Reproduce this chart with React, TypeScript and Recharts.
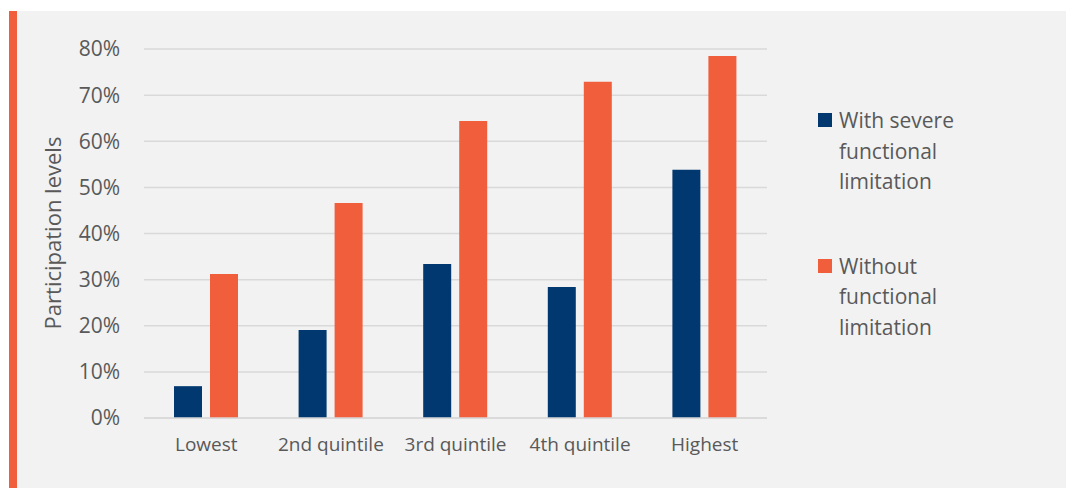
import React from 'react';
import { BarChart, Bar, XAxis, YAxis, CartesianGrid, Label } from 'recharts';

const quintiles = ['Lowest', '2nd quintile', '3rd quintile', '4th quintile', 'Highest'];
const withSevere = [6.9, 19.1, 33.4, 28.4, 53.8];
const withoutLimitation = [31.2, 46.6, 64.4, 72.9, 78.5];
const yTicks = [0, 10, 20, 30, 40, 50, 60, 70, 80];

const BLUE = '#00386f';
const ORANGE = '#f15e3c';
const TEXT = '#595959';
const GRID = '#d9d9d9';
const FONT = '"Open Sans", sans-serif';

const data = quintiles.map((name, i) => ({
  name,
  severe: withSevere[i],
  without: withoutLimitation[i],
}));

const legendItems = [
  { color: BLUE, lines: ['With severe', 'functional', 'limitation'] },
  { color: ORANGE, lines: ['Without', 'functional', 'limitation'] },
];

const LegendBox = () => (
  <div style={{ fontFamily: FONT, fontSize: 21, color: TEXT, lineHeight: '30.5px' }}>
    {legendItems.map((item, i) => (
      <div key={i} style={{ display: 'flex', marginBottom: i === 0 ? 54 : 0 }}>
        <div style={{ width: 14, height: 14, background: item.color, marginTop: 8, marginRight: 7 }} />
        <div>
          {item.lines.map((l, j) => (
            <div key={j}>{l}</div>
          ))}
        </div>
      </div>
    ))}
  </div>
);

export default function App() {
  return (
    <div style={{ position: 'relative', width: 1074, height: 496, margin: -8, background: '#fff', overflow: 'hidden' }}>
      <div
        style={{
          position: 'absolute',
          left: 9,
          top: 11,
          width: 1065,
          height: 485,
          background: '#f2f2f2',
          borderLeft: `8px solid ${ORANGE}`,
          boxSizing: 'border-box',
        }}
      />
      <div style={{ position: 'absolute', left: 0, top: 0 }}>
        <BarChart
          width={1074}
          height={496}
          data={data}
          margin={{ top: 49, right: 307, bottom: 38, left: 0 }}
          barSize={28}
          barGap={8}
        >
          <CartesianGrid vertical={false} stroke={GRID} strokeWidth={1.5} />
          <XAxis
            dataKey="name"
            height={40}
            tickLine={false}
            axisLine={{ stroke: GRID, strokeWidth: 1.5 }}
            tickMargin={14}
            tick={{ fill: TEXT, fontSize: 19, fontFamily: FONT }}
            interval={0}
          />
          <YAxis
            width={144}
            domain={[0, 80]}
            ticks={yTicks}
            tickFormatter={(v) => `${v}%`}
            axisLine={false}
            tickLine={false}
            tickSize={0}
            tickMargin={24}
            tick={{ fill: TEXT, fontSize: 21, fontFamily: FONT }}
          >
            <Label
              content={() => (
                <text
                  x={52}
                  y={233}
                  transform="rotate(-90 52 233)"
                  textAnchor="middle"
                  dominantBaseline="central"
                  fill={TEXT}
                  fontSize={22}
                  fontFamily={FONT}
                >
                  Participation levels
                </text>
              )}
            />
          </YAxis>
          <Bar dataKey="severe" name="With severe functional limitation" fill={BLUE} isAnimationActive={false} />
          <Bar dataKey="without" name="Without functional limitation" fill={ORANGE} isAnimationActive={false} />
        </BarChart>
      </div>
      <div style={{ position: 'absolute', left: 818, top: 105 }}>
        <LegendBox />
      </div>
    </div>
  );
}
